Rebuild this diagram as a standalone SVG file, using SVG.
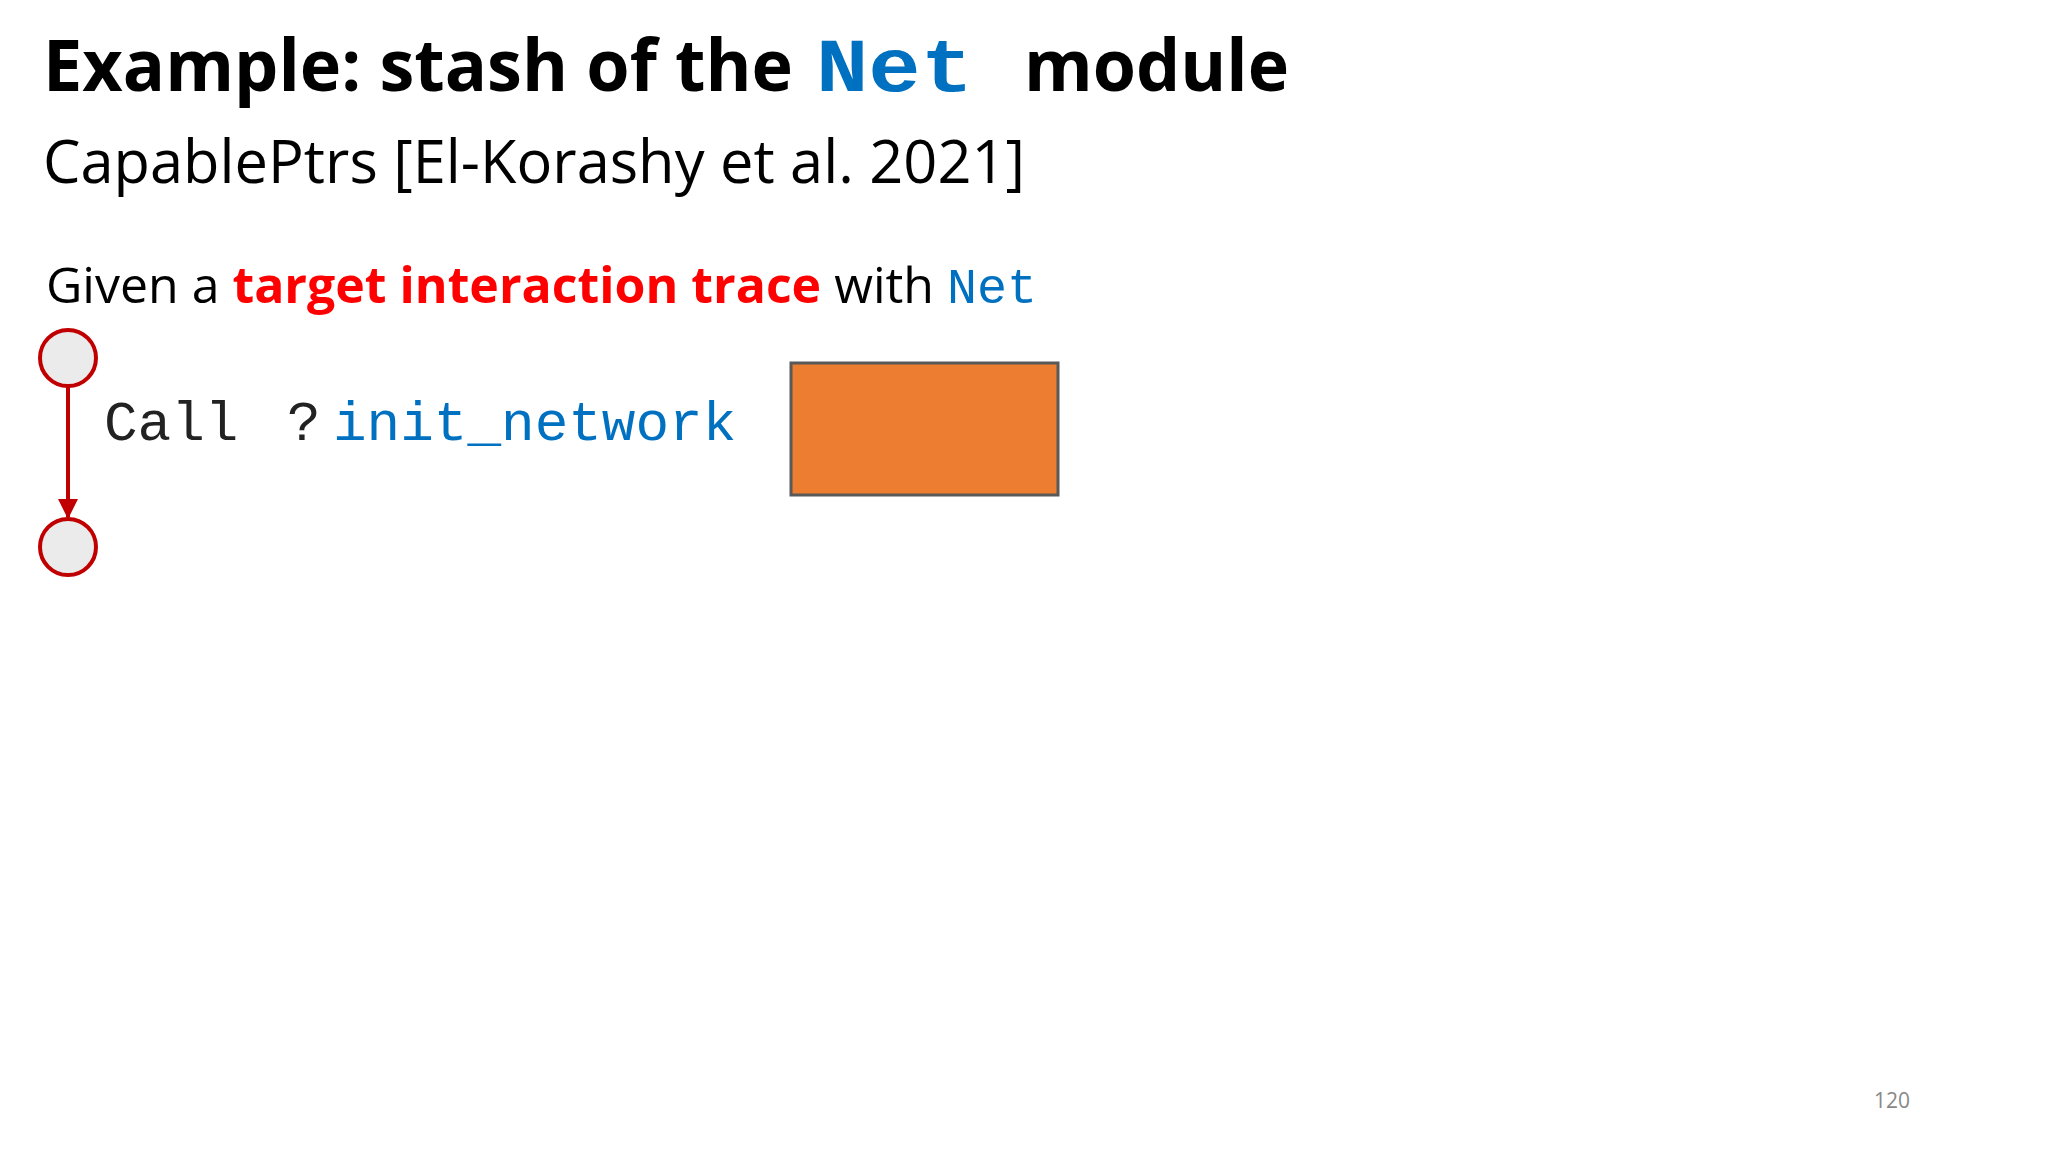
<svg xmlns="http://www.w3.org/2000/svg" width="2048" height="1152" viewBox="0 0 2048 1152">
<defs>
<style>
.s{font-family:"Open Sans","Liberation Sans",sans-serif}
.m{font-family:"Liberation Mono","Courier New",monospace}
.blue{fill:#0070C0}
.node{fill:#EBEBEB;stroke:#C00000;stroke-width:4}
</style>
<marker id="ah" viewBox="0 0 10 10" refX="9" refY="5" markerWidth="5" markerHeight="5" orient="auto"><path d="M0,0L10,5L0,10z" fill="#C00000"/></marker>
</defs>
<rect width="2048" height="1152" fill="#fff"/>
<text class="s" x="43" y="91" font-size="72" font-weight="bold" textLength="750" lengthAdjust="spacingAndGlyphs">Example: stash of the</text>
<text class="m blue" x="816" y="91" font-size="76" font-weight="bold" textLength="157" lengthAdjust="spacingAndGlyphs">Net</text>
<text class="s" x="1024" y="91" font-size="72" font-weight="bold" textLength="265" lengthAdjust="spacingAndGlyphs">module</text>
<text class="s" x="43" y="183" font-size="60" textLength="982" lengthAdjust="spacingAndGlyphs">CapablePtrs [El-Korashy et al. 2021]</text>
<text class="s" x="46" y="303" font-size="50">Given a <tspan font-weight="bold" fill="#FF0000">target interaction trace</tspan> with <tspan class="m blue">Net</tspan></text>
<g id="connectors"><line x1="68" y1="386" x2="68" y2="517" stroke="#C00000" stroke-width="4" marker-end="url(#ah)"/></g>
<g id="n1"><circle class="node" cx="68" cy="358" r="28"/></g>
<g id="n2"><circle class="node" cx="68" cy="547" r="28"/></g>
<g id="label"><text class="m" x="104" y="440" font-size="56" fill="#222">Call <tspan x="287">?</tspan><tspan x="333" class="blue">init_network</tspan></text></g>
<g id="box"><rect x="791" y="363" width="267" height="132" fill="#ED7D31" stroke="#595959" stroke-width="3"/></g>
<text class="s" x="1874" y="1108" font-size="21" fill="#888">120</text>
</svg>
